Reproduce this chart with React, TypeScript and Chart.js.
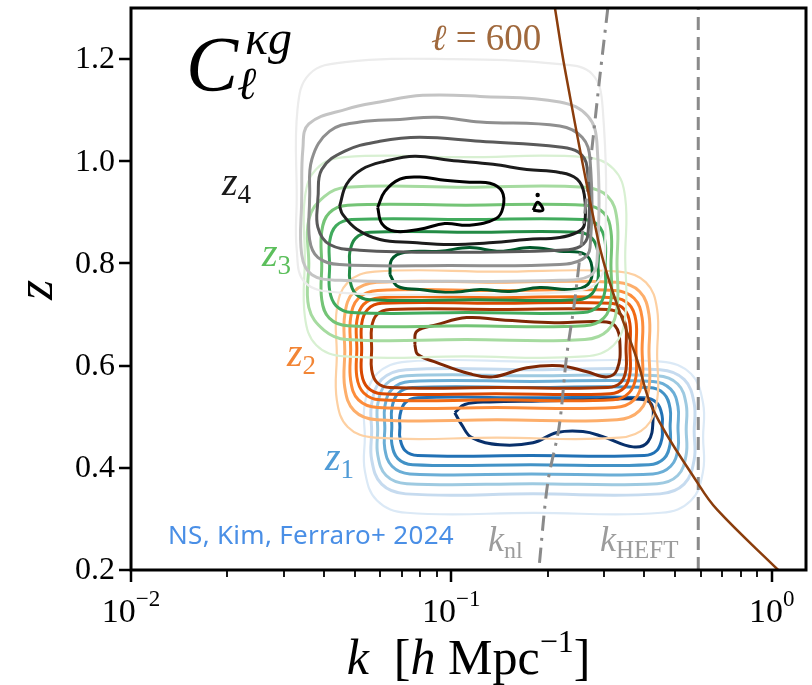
import React, { useEffect, useRef } from 'react';
import { Chart, registerables } from 'chart.js';
Chart.register(...registerables);

type P = [number, number];

// ---------- axes ----------
const X_RANGE = [0.01, 1.28];
const Y_RANGE = [0.2, 1.3];
const Y_TICKS = [0.2, 0.4, 0.6, 0.8, 1.0, 1.2];
const Y_TICK_LABELS = ['0.2', '0.4', '0.6', '0.8', '1.0', '1.2'];
const X_MAJOR = [0.01, 0.1, 1];
const X_MAJOR_EXP = ['−2', '−1', '0'];
const X_MINOR = [0.02, 0.03, 0.04, 0.05, 0.06, 0.07, 0.08, 0.09, 0.2, 0.3, 0.4, 0.5, 0.6, 0.7, 0.8, 0.9];

// ---------- scale lines ----------
const KNL_Z = [1.3, 1.167, 1.018, 0.729, 0.618, 0.48, 0.371, 0.2];
const KNL_K = [0.308, 0.291, 0.274, 0.243, 0.229, 0.217, 0.2, 0.1875];
const KHEFT_Z = [0.2, 1.3];
const KHEFT_K = [0.59, 0.59];
const ELL_Z = [1.3, 1.18, 0.847, 0.749, 0.612, 0.514, 0.369, 0.318, 0.2];
const ELL_K = [0.2106, 0.2263, 0.287, 0.3173, 0.3799, 0.4262, 0.5892, 0.6757, 1.048];

// ---------- z4 contours (grey) ----------
const Z4_C0: P[] = [[0.0329,0.926],[0.0331,1.102],[0.0361,1.171],[0.0465,1.194],[0.0989,1.2],[0.218,1.19],[0.275,1.171],[0.297,1.102],[0.302,0.828],[0.287,0.765],[0.235,0.745],[0.0989,0.739],[0.0448,0.743],[0.0349,0.763],[0.0329,0.828],[0.0329,0.926]];
const Z4_C1: P[] = [[0.0341,0.926],[0.0344,1.024],[0.0359,1.073],[0.0471,1.102],[0.0598,1.116],[0.0815,1.129],[0.123,1.127],[0.218,1.116],[0.267,1.088],[0.285,1.033],[0.285,0.804],[0.271,0.776],[0.218,0.767],[0.0989,0.765],[0.0448,0.767],[0.0367,0.778],[0.0341,0.818],[0.0341,0.926]];
const Z4_C2: P[] = [[0.0361,0.926],[0.0367,1.004],[0.0417,1.059],[0.0518,1.077],[0.0691,1.082],[0.0901,1.086],[0.123,1.077],[0.218,1.069],[0.256,1.047],[0.271,1.004],[0.271,0.831],[0.256,0.808],[0.218,0.798],[0.0989,0.796],[0.0448,0.798],[0.0383,0.812],[0.0361,0.847],[0.0361,0.926]];
const Z4_C3: P[] = [[0.0383,0.926],[0.0394,0.984],[0.0465,1.02],[0.0598,1.039],[0.0797,1.047],[0.123,1.039],[0.218,1.028],[0.249,1.018],[0.265,0.99],[0.267,0.857],[0.252,0.833],[0.218,0.826],[0.0989,0.822],[0.0518,0.826],[0.0417,0.837],[0.0383,0.871],[0.0383,0.926]];
const Z4_C4: P[] = [[0.0448,0.912],[0.0471,0.955],[0.0525,0.984],[0.062,1.0],[0.0769,1.01],[0.0989,1.002],[0.135,0.994],[0.172,0.984],[0.218,0.978],[0.247,0.965],[0.26,0.935],[0.26,0.875],[0.247,0.861],[0.218,0.851],[0.172,0.847],[0.135,0.841],[0.0989,0.837],[0.0758,0.841],[0.0598,0.847],[0.0507,0.867],[0.0458,0.896],[0.0448,0.912]];
const Z4_C5: P[] = [[0.0589,0.91],[0.062,0.941],[0.0691,0.965],[0.0797,0.969],[0.0954,0.963],[0.114,0.959],[0.132,0.957],[0.144,0.941],[0.145,0.91],[0.138,0.888],[0.114,0.875],[0.0954,0.878],[0.0797,0.867],[0.0666,0.863],[0.0607,0.878],[0.0589,0.91]];
const Z4_C6: P[] = [[0.18,0.904],[0.186,0.92],[0.193,0.904],[0.18,0.904]];
const Z4_DOT: P[] = [[0.186, 0.934]];

// ---------- z3 contours (green) ----------
const Z3_C0: P[] = [[0.0349,0.813],[0.0349,0.929],[0.0379,0.985],[0.0465,1.008],[0.110,1.008],[0.261,1.008],[0.321,0.985],[0.349,0.929],[0.349,0.813],[0.349,0.696],[0.321,0.640],[0.261,0.618],[0.110,0.618],[0.0465,0.618],[0.0379,0.640],[0.0349,0.696],[0.0349,0.813]];
const Z3_C1: P[] = [[0.0359,0.8],[0.0359,0.886],[0.0401,0.931],[0.0471,0.949],[0.111,0.949],[0.261,0.949],[0.308,0.931],[0.329,0.886],[0.329,0.8],[0.329,0.714],[0.308,0.669],[0.261,0.651],[0.111,0.651],[0.0471,0.651],[0.0401,0.669],[0.0359,0.714],[0.0359,0.8]];
const Z3_C2: P[] = [[0.0394,0.796],[0.0394,0.863],[0.0416,0.899],[0.0475,0.914],[0.111,0.914],[0.261,0.914],[0.299,0.899],[0.315,0.863],[0.315,0.796],[0.315,0.729],[0.299,0.693],[0.261,0.678],[0.111,0.678],[0.0475,0.678],[0.0416,0.693],[0.0394,0.729],[0.0394,0.796]];
const Z3_C3: P[] = [[0.0417,0.795],[0.0417,0.843],[0.0437,0.874],[0.0489,0.886],[0.112,0.886],[0.258,0.886],[0.288,0.874],[0.302,0.843],[0.302,0.795],[0.302,0.747],[0.288,0.717],[0.258,0.704],[0.112,0.704],[0.0489,0.704],[0.0437,0.717],[0.0417,0.747],[0.0417,0.795]];
const Z3_C4: P[] = [[0.0482,0.795],[0.0482,0.822],[0.0502,0.849],[0.0556,0.861],[0.118,0.861],[0.249,0.861],[0.275,0.849],[0.287,0.822],[0.287,0.795],[0.287,0.769],[0.275,0.741],[0.249,0.729],[0.118,0.729],[0.0556,0.729],[0.0502,0.741],[0.0482,0.769],[0.0482,0.795]];
const Z3_C5: P[] = [[0.0643,0.778],[0.0652,0.808],[0.0716,0.822],[0.0921,0.824],[0.114,0.831],[0.142,0.824],[0.176,0.831],[0.218,0.824],[0.261,0.818],[0.275,0.792],[0.267,0.759],[0.235,0.749],[0.189,0.753],[0.152,0.745],[0.123,0.749],[0.0989,0.743],[0.0797,0.749],[0.0681,0.755],[0.0643,0.778]];

// ---------- z2 contours (orange) ----------
const Z2_C0: P[] = [[0.0439,0.622],[0.0439,0.710],[0.0475,0.763],[0.0577,0.784],[0.139,0.784],[0.334,0.784],[0.405,0.763],[0.439,0.710],[0.439,0.622],[0.439,0.533],[0.405,0.480],[0.334,0.459],[0.139,0.459],[0.0577,0.459],[0.0475,0.480],[0.0439,0.533],[0.0439,0.622]];
const Z2_C1: P[] = [[0.0465,0.628],[0.0465,0.700],[0.0497,0.745],[0.0585,0.763],[0.139,0.763],[0.329,0.763],[0.387,0.745],[0.414,0.700],[0.414,0.628],[0.414,0.557],[0.387,0.512],[0.329,0.494],[0.139,0.494],[0.0585,0.494],[0.0497,0.512],[0.0465,0.557],[0.0465,0.628]];
const Z2_C2: P[] = [[0.0485,0.632],[0.0485,0.694],[0.0513,0.732],[0.0589,0.747],[0.138,0.747],[0.324,0.747],[0.372,0.732],[0.394,0.694],[0.394,0.632],[0.394,0.571],[0.372,0.533],[0.324,0.518],[0.138,0.518],[0.0589,0.518],[0.0513,0.533],[0.0485,0.571],[0.0485,0.632]];
const Z2_C3: P[] = [[0.0507,0.633],[0.0507,0.688],[0.0532,0.720],[0.0598,0.733],[0.138,0.733],[0.320,0.733],[0.359,0.720],[0.377,0.688],[0.377,0.633],[0.377,0.578],[0.359,0.547],[0.320,0.533],[0.138,0.533],[0.0598,0.533],[0.0532,0.547],[0.0507,0.578],[0.0507,0.633]];
const Z2_C4: P[] = [[0.0525,0.633],[0.0525,0.682],[0.0548,0.710],[0.0607,0.722],[0.138,0.722],[0.313,0.722],[0.347,0.710],[0.361,0.682],[0.361,0.633],[0.361,0.584],[0.347,0.557],[0.313,0.545],[0.138,0.545],[0.0607,0.545],[0.0548,0.557],[0.0525,0.584],[0.0525,0.633]];
const Z2_C5: P[] = [[0.0564,0.633],[0.0564,0.675],[0.0586,0.700],[0.0643,0.710],[0.141,0.710],[0.308,0.710],[0.338,0.700],[0.351,0.675],[0.351,0.633],[0.351,0.592],[0.338,0.567],[0.308,0.557],[0.141,0.557],[0.0643,0.557],[0.0586,0.567],[0.0564,0.592],[0.0564,0.633]];
const Z2_C6: P[] = [[0.0769,0.641],[0.078,0.667],[0.0901,0.68],[0.1117,0.694],[0.1418,0.69],[0.1759,0.686],[0.2183,0.684],[0.2911,0.686],[0.3243,0.678],[0.3361,0.641],[0.329,0.592],[0.306,0.578],[0.2652,0.588],[0.2183,0.6],[0.1721,0.596],[0.1348,0.578],[0.1142,0.584],[0.0901,0.606],[0.0786,0.622],[0.0769,0.641]];

// ---------- z1 contours (blue) ----------
const Z1_C0: P[] = [[0.0537,0.460],[0.0537,0.526],[0.0586,0.584],[0.0726,0.608],[0.181,0.608],[0.452,0.608],[0.560,0.584],[0.611,0.526],[0.611,0.460],[0.611,0.394],[0.560,0.336],[0.452,0.312],[0.181,0.312],[0.0726,0.312],[0.0586,0.336],[0.0537,0.394],[0.0537,0.460]];
const Z1_C1: P[] = [[0.0564,0.471],[0.0564,0.526],[0.0606,0.573],[0.0721,0.592],[0.180,0.592],[0.448,0.592],[0.533,0.573],[0.573,0.526],[0.573,0.471],[0.573,0.416],[0.533,0.368],[0.448,0.349],[0.180,0.349],[0.0721,0.349],[0.0606,0.368],[0.0564,0.416],[0.0564,0.471]];
const Z1_C2: P[] = [[0.0589,0.475],[0.0589,0.524],[0.0626,0.564],[0.0726,0.580],[0.179,0.580],[0.439,0.580],[0.509,0.564],[0.541,0.524],[0.541,0.475],[0.541,0.426],[0.509,0.385],[0.439,0.369],[0.179,0.369],[0.0726,0.369],[0.0626,0.385],[0.0589,0.426],[0.0589,0.475]];
const Z1_C3: P[] = [[0.0620,0.478],[0.0620,0.520],[0.0653,0.554],[0.0742,0.569],[0.178,0.569],[0.426,0.569],[0.484,0.554],[0.510,0.520],[0.510,0.478],[0.510,0.437],[0.484,0.403],[0.426,0.388],[0.178,0.388],[0.0742,0.388],[0.0653,0.403],[0.0620,0.437],[0.0620,0.478]];
const Z1_C4: P[] = [[0.0652,0.481],[0.0652,0.516],[0.0681,0.545],[0.0758,0.557],[0.177,0.557],[0.414,0.557],[0.461,0.545],[0.482,0.516],[0.482,0.481],[0.482,0.447],[0.461,0.418],[0.414,0.406],[0.177,0.406],[0.0758,0.406],[0.0681,0.418],[0.0652,0.447],[0.0652,0.481]];
const Z1_C5: P[] = [[0.0691,0.480],[0.0691,0.502],[0.0717,0.527],[0.0786,0.537],[0.177,0.537],[0.400,0.537],[0.438,0.527],[0.455,0.502],[0.455,0.480],[0.455,0.459],[0.438,0.434],[0.400,0.424],[0.177,0.424],[0.0786,0.424],[0.0717,0.434],[0.0691,0.459],[0.0691,0.480]];
const Z1_C6: P[] = [[0.1025,0.508],[0.1078,0.484],[0.1159,0.459],[0.1418,0.445],[0.1798,0.449],[0.2137,0.469],[0.2576,0.471],[0.2974,0.461],[0.3691,0.441],[0.4112,0.451],[0.4262,0.494],[0.4172,0.528],[0.3612,0.535],[0.2709,0.533],[0.189,0.531],[0.1319,0.529],[0.1102,0.524],[0.1025,0.508]];

const GROUPS = [
  { name: 'z1', sets: [Z1_C0, Z1_C1, Z1_C2, Z1_C3, Z1_C4, Z1_C5, Z1_C6], colors: ['#dbe9f6', '#c6dbef', '#9ecae1', '#6baed6', '#4292c6', '#2171b5', '#08306b'] },
  { name: 'z2', sets: [Z2_C0, Z2_C1, Z2_C2, Z2_C3, Z2_C4, Z2_C5, Z2_C6], colors: ['#fdd0a2', '#fdae6b', '#fd8d3c', '#f16913', '#d94801', '#a63603', '#7f2704'] },
  { name: 'z3', sets: [Z3_C0, Z3_C1, Z3_C2, Z3_C3, Z3_C4, Z3_C5], colors: ['#d8f0d2', '#a6dba0', '#74c476', '#41ab5d', '#238b45', '#00582a'] },
  { name: 'z4', sets: [Z4_C0, Z4_C1, Z4_C2, Z4_C3, Z4_C4, Z4_C5, Z4_C6], colors: ['#ececec', '#c4c4c4', '#8f8f8f', '#5a5a5a', '#1c1c1c', '#000000', '#000000'] },
];

const SERIF = "'Liberation Serif','DejaVu Serif',serif";

type Run = { t: string; s: number; it?: boolean; dy?: number };

function drawRuns(ctx: CanvasRenderingContext2D, x: number, y: number, runs: Run[], align: 'left' | 'center' = 'left') {
  let w = 0;
  for (const r of runs) {
    ctx.font = `${r.it ? 'italic ' : ''}${r.s}px ${SERIF}`;
    w += ctx.measureText(r.t).width;
  }
  let cx = align === 'center' ? x - w / 2 : x;
  ctx.textAlign = 'left';
  ctx.textBaseline = 'alphabetic';
  for (const r of runs) {
    ctx.font = `${r.it ? 'italic ' : ''}${r.s}px ${SERIF}`;
    ctx.fillText(r.t, cx, y + (r.dy || 0));
    cx += ctx.measureText(r.t).width;
  }
}

const overlayPlugin = {
  id: 'overlay',
  afterDraw(chart: any) {
    const { ctx, chartArea: a, scales } = chart;
    const xs = scales.x, ys = scales.y;
    ctx.save();
    ctx.strokeStyle = '#000';
    ctx.lineWidth = 3;
    ctx.strokeRect(a.left, a.top, a.right - a.left, a.bottom - a.top);
    ctx.lineWidth = 2.5;
    ctx.beginPath();
    for (const v of Y_TICKS) {
      const py = Math.round(ys.getPixelForValue(v));
      ctx.moveTo(a.left, py); ctx.lineTo(a.left - 12, py);
    }
    for (const v of X_MAJOR) {
      const px = Math.round(xs.getPixelForValue(v));
      ctx.moveTo(px, a.bottom); ctx.lineTo(px, a.bottom + 12);
    }
    ctx.stroke();
    ctx.lineWidth = 1.8;
    ctx.beginPath();
    for (const v of X_MINOR) {
      const px = Math.round(xs.getPixelForValue(v));
      ctx.moveTo(px, a.bottom); ctx.lineTo(px, a.bottom + 7);
    }
    ctx.stroke();
    ctx.fillStyle = '#000';
    ctx.font = `32px ${SERIF}`;
    ctx.textAlign = 'right';
    ctx.textBaseline = 'middle';
    Y_TICKS.forEach((v, i) => {
      ctx.fillText(Y_TICK_LABELS[i], a.left - 16, ys.getPixelForValue(v) + 1);
    });
    X_MAJOR.forEach((v, i) => {
      drawRuns(ctx, xs.getPixelForValue(v), a.bottom + 52, [
        { t: '10', s: 34 },
        { t: X_MAJOR_EXP[i], s: 23, dy: -16 },
      ], 'center');
    });
    drawRuns(ctx, (a.left + a.right) / 2, 674, [
      { t: 'k', s: 50, it: true },
      { t: '  [', s: 50 },
      { t: 'h', s: 50, it: true },
      { t: ' Mpc', s: 50 },
      { t: '−1', s: 32, dy: -22 },
      { t: ']', s: 50 },
    ], 'center');
    ctx.save();
    ctx.translate(52, 290);
    ctx.rotate(-Math.PI / 2);
    drawRuns(ctx, 0, 0, [{ t: 'z', s: 52, it: true }], 'center');
    ctx.restore();

    ctx.fillStyle = '#000';
    drawRuns(ctx, 186, 90, [{ t: 'C', s: 78, it: true }]);
    drawRuns(ctx, 245, 54, [{ t: 'κg', s: 48, it: true }]);
    drawRuns(ctx, 237, 99, [{ t: 'ℓ', s: 46, it: true }]);

    ctx.fillStyle = '#a0693d';
    drawRuns(ctx, 431, 50, [{ t: 'ℓ', s: 37, it: true }, { t: ' = 600', s: 37 }]);

    const zl: [string, number, number, string][] = [
      ['4', 222, 195, '#1a1a1a'],
      ['3', 262, 266, '#5cbf5c'],
      ['2', 287, 366, '#f28535'],
      ['1', 325, 470, '#4f9bd6'],
    ];
    for (const [n, x, y, c] of zl) {
      ctx.fillStyle = c;
      drawRuns(ctx, x, y, [{ t: 'z', s: 40, it: true }, { t: n, s: 27, dy: 8 }]);
    }

    ctx.fillStyle = '#9c9c9c';
    drawRuns(ctx, 488, 551, [{ t: 'k', s: 36, it: true }, { t: 'nl', s: 24, dy: 7 }]);
    drawRuns(ctx, 600, 551, [{ t: 'k', s: 36, it: true }, { t: 'HEFT', s: 25, dy: 7 }]);

    ctx.fillStyle = '#4a8fe6';
    ctx.font = "26px 'Noto Sans', sans-serif";
    (ctx as any).letterSpacing = '0.3px';
    ctx.textAlign = 'left';
    ctx.textBaseline = 'alphabetic';
    ctx.fillText('NS, Kim, Ferraro+ 2024', 168, 544);
    (ctx as any).letterSpacing = '0px';
    ctx.restore();
  },
};

function toXY(pts: P[]) {
  return pts.map(([x, y]) => ({ x, y }));
}

export default function App() {
  const ref = useRef<HTMLCanvasElement | null>(null);
  useEffect(() => {
    if (!ref.current) return;
    const layers: any[] = [];
    GROUPS.forEach((g) => {
      g.sets.forEach((pts, i) => {
        layers.push({
          label: `${g.name}-${i}`,
          data: toXY(pts),
          showLine: true,
          borderColor: g.colors[i],
          borderWidth: i === 0 ? 2.2 : 3,
          pointRadius: 0,
          tension: 0.4,
          fill: false,
        });
      });
    });
    layers.push({ label: 'dot', data: toXY(Z4_DOT), showLine: false, pointRadius: 2.2, pointBackgroundColor: '#000', pointBorderWidth: 0 });
    layers.push({
      label: 'k_nl', data: KNL_Z.map((z, i) => ({ x: KNL_K[i], y: z })), showLine: true,
      borderColor: '#8a8a8a', borderWidth: 3, pointRadius: 0, tension: 0.3, borderDash: [15, 7, 3, 7],
    });
    layers.push({
      label: 'k_HEFT', data: KHEFT_Z.map((z, i) => ({ x: KHEFT_K[i], y: z })), showLine: true,
      borderColor: '#8a8a8a', borderWidth: 3, pointRadius: 0, borderDash: [13, 7],
    });
    layers.push({
      label: 'ell600', data: ELL_Z.map((z, i) => ({ x: ELL_K[i], y: z })), showLine: true,
      borderColor: '#8b3d0c', borderWidth: 2.5, pointRadius: 0, tension: 0.4,
    });
    const N = layers.length;
    const datasets = layers.map((d, i) => ({ ...d, order: N - i }));

    const chart = new Chart(ref.current, {
      type: 'scatter',
      data: { datasets },
      options: {
        animation: false,
        responsive: false,
        maintainAspectRatio: false,
        layout: { padding: { left: 131, right: 6, top: 8, bottom: 115 } },
        plugins: { legend: { display: false }, tooltip: { enabled: false } },
        scales: {
          x: { type: 'logarithmic', min: X_RANGE[0], max: X_RANGE[1], display: false },
          y: { type: 'linear', min: Y_RANGE[0], max: Y_RANGE[1], display: false },
        },
      },
      plugins: [overlayPlugin],
    });
    return () => chart.destroy();
  }, []);
  return (
    <div style={{ position: 'absolute', left: 0, top: 0, width: 812, height: 685, background: '#fff' }}>
      <canvas ref={ref} width={812} height={685} style={{ width: 812, height: 685 }} />
    </div>
  );
}
